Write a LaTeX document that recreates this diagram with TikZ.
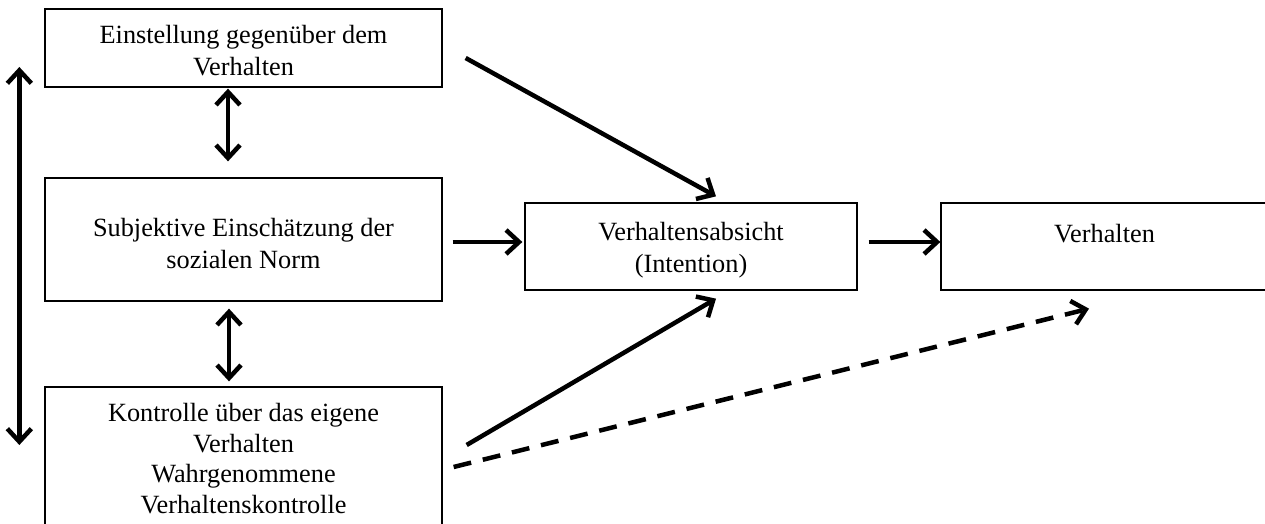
\documentclass[tikz,border=0pt]{standalone}
\usepackage{fontspec}
\setmainfont{Liberation Serif}
\usetikzlibrary{arrows.meta,calc}
% extra room above the first line of a box
\newcommand\toppad[1]{\rule{0pt}{#1}}
\begin{document}
\begin{tikzpicture}[x=1pt,y=-1pt,
  box/.style={draw,line width=1.3pt,rectangle,inner sep=0pt,align=center,
    font=\fontsize{26.3}{32}\selectfont},
  tip/.tip={Straight Barb[length=13pt,width=24pt]},
  arr/.style={line width=4.5pt,-tip},
  biarr/.style={line width=4.5pt,tip-tip},
  dasharr/.style={arr,dash pattern=on 18pt off 12pt}]
  \useasboundingbox (0,0) rectangle (1265,524);
  \clip (0,0) rectangle (1265,524);
  \fill[white] (0,0) rectangle (1265,524);

  % left column
  \node[box,minimum width=397pt,minimum height=78pt] (A) at (243.5,48)
    {\toppad{24pt}Einstellung gegenüber dem\\Verhalten};
  \node[box,minimum width=397pt,minimum height=123pt] (B) at (243.5,239.5)
    {\toppad{27pt}Subjektive Einschätzung der\\sozialen Norm};
  \node[box,minimum width=397pt,minimum height=143pt,
    font=\fontsize{26.3}{30.5}\selectfont] (C) at (243.5,458.5)
    {Kontrolle über das eigene\\Verhalten\\Wahrgenommene\\Verhaltenskontrolle};

  % intention and behaviour
  \node[box,minimum width=332pt,minimum height=87pt] (D) at (691,246.5)
    {\toppad{25pt}Verhaltensabsicht\\(Intention)};
  \node[box,minimum width=327pt,minimum height=87pt,
    label={[anchor=center,font=\fontsize{26.3}{30.5}\selectfont]center:\raisebox{26pt}{Verhalten}}]
    (E) at (1104.5,246.5) {};

  % mutual relations between the determinants
  \draw[biarr] ($(A.west)+(-25,19)$) -- ($(C.west)+(-25,-13.5)$);
  \draw[biarr] ($(A.south)+(-15.5,1)$) -- ($(B.north)+(-15.5,-16)$);
  \draw[biarr] ($(B.south)+(-14.5,7)$) -- ($(C.north)+(-14.5,-5)$);

  % effects on intention and behaviour
  \draw[arr] ($(A.east)+(23,10)$) -- ($(D.north)+(25,-6)$);
  \draw[arr] ($(B.east)+(10,2.5)$) -- ($(D.west)+(-2,-4.5)$);
  \draw[arr] ($(C.east)+(24,-13.5)$) -- ($(D.south)+(25,8)$);
  \draw[arr] ($(D.east)+(11,-4.5)$) -- ($(E.west)+(0,-4.5)$);
  \draw[dasharr] ($(C.east)+(11,8.5)$) -- ($(E.south)+(-15.5,18)$);
\end{tikzpicture}
\end{document}
